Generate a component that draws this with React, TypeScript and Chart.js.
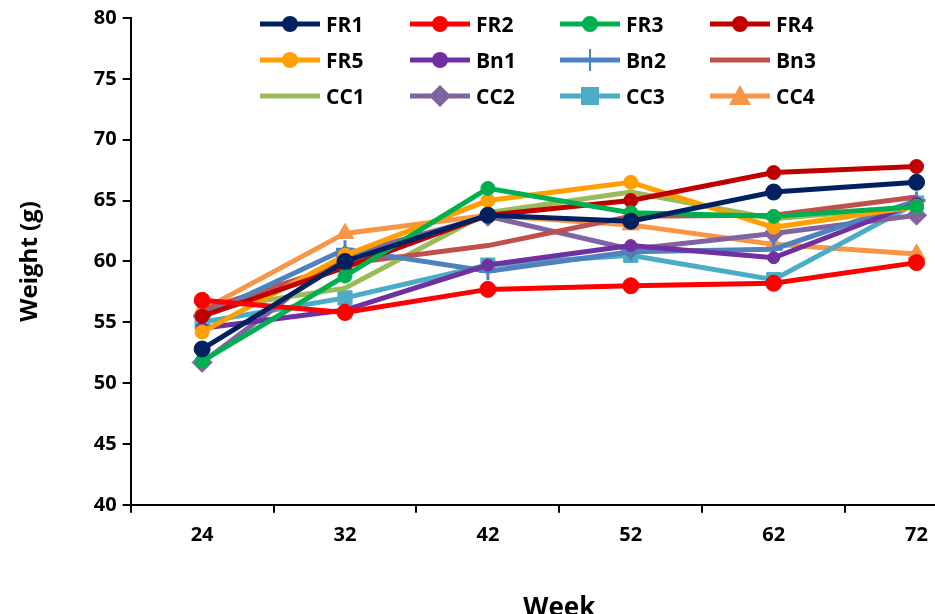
import React, { useEffect, useRef } from "react";
import { Chart, registerables } from "chart.js";
Chart.register(...registerables);

const weeks = ["24", "32", "42", "52", "62", "72"];
const names = ["FR1","FR2","FR3","FR4","FR5","Bn1","Bn2","Bn3","CC1","CC2","CC3","CC4"];
const FR1 = [52.8, 60.0, 63.8, 63.3, 65.7, 66.5];
const FR2 = [56.8, 55.8, 57.7, 58.0, 58.2, 59.9];
const FR3 = [51.8, 58.8, 66.0, 64.0, 63.7, 64.5];
const FR4 = [55.5, 59.5, 63.8, 65.0, 67.3, 67.8];
const FR5 = [54.2, 60.5, 65.0, 66.5, 62.8, 64.5];
const Bn1 = [54.5, 56.0, 59.7, 61.3, 60.3, 64.8];
const Bn2 = [55.5, 61.0, 59.2, 60.8, 61.0, 65.0];
const Bn3 = [56.0, 59.8, 61.3, 63.7, 63.8, 65.3];
const CC1 = [56.0, 57.8, 64.0, 65.7, 63.5, 64.5];
const CC2 = [51.7, 60.5, 63.7, 61.0, 62.3, 63.8];
const CC3 = [55.0, 57.0, 59.7, 60.5, 58.5, 64.8];
const CC4 = [56.0, 62.3, 63.8, 63.0, 61.4, 60.6];
const values = [FR1, FR2, FR3, FR4, FR5, Bn1, Bn2, Bn3, CC1, CC2, CC3, CC4];
const colors = ["#002060","#FF0000","#00B050","#C00000","#FFA000","#7030A0","#4F81BD","#C0504D","#9BBB59","#8064A2","#4BACC6","#F79646"];
const shapes = ["circle","circle","circle","circle","circle","circle","cross","line","line","rectRot","rect","triangle"];
const radii = [8,8,7,7,7,6,9,0,0,10,10,10];

export default function App() {
  const ref = useRef<HTMLCanvasElement>(null);
  useEffect(() => {
    document.body.style.overflow = "hidden";
    const font = { family: "'Open Sans', sans-serif", weight: "bold" as const };
    const chart = new Chart(ref.current!, {
      type: "line",
      data: {
        labels: weeks,
        datasets: names.map((n, i) => ({
          label: n,
          data: values[i],
          borderColor: colors[i],
          backgroundColor: colors[i],
          borderWidth: 5,
          pointStyle: shapes[i] as any,
          pointRadius: radii[i],
          pointBorderWidth: shapes[i] === "cross" ? 3 : 1,
        })),
      },
      options: {
        animation: false,
        responsive: false,
        layout: { padding: { top: 12, right: 10, left: 12, bottom: 0 } },
        plugins: { legend: { display: false }, tooltip: { enabled: false } },
        scales: {
          x: {
            offset: true,
            grid: { offset: true, drawOnChartArea: false, drawTicks: true, tickLength: 8, color: "#000", lineWidth: 2 },
            border: { color: "#000", width: 2 },
            ticks: { color: "#000", font: { ...font, size: 20 }, padding: 10 },
            title: { display: true, text: "Week", color: "#000", font: { ...font, size: 26 }, padding: { top: 36 } },
          },
          y: {
            min: 40, max: 80,
            grid: { drawOnChartArea: false, drawTicks: true, tickLength: 8, color: "#000", lineWidth: 2 },
            border: { color: "#000", width: 2 },
            ticks: { stepSize: 5, color: "#000", font: { ...font, size: 20 }, padding: 6 },
            title: { display: true, text: "Weight (g)", color: "#000", font: { ...font, size: 24 }, padding: { bottom: 43 } },
          },
        },
      },
    });
    return () => chart.destroy();
  }, []);
  const legendItem = (i: number) => (
    <div key={i} style={{ display: "flex", alignItems: "center", height: 36 }}>
      <svg width={60} height={24} style={{ marginRight: 6 }}>
        <line x1={0} y1={12} x2={60} y2={12} stroke={colors[i]} strokeWidth={5} />
        {shapes[i] === "circle" && <circle cx={30} cy={12} r={8} fill={colors[i]} />}
        {shapes[i] === "cross" && <line x1={30} y1={1} x2={30} y2={23} stroke={colors[i]} strokeWidth={2} />}
        {shapes[i] === "rectRot" && <polygon points="30,1 41,12 30,23 19,12" fill={colors[i]} />}
        {shapes[i] === "rect" && <rect x={21} y={3} width={18} height={18} fill={colors[i]} />}
        {shapes[i] === "triangle" && <polygon points="30,1 41,21 19,21" fill={colors[i]} />}
      </svg>
      <span style={{ fontFamily: "'Open Sans', sans-serif", fontWeight: "bold", fontSize: 21 }}>{names[i]}</span>
    </div>
  );
  return (
    <div style={{ position: "fixed", left: 0, top: 0, width: 935, height: 614, overflow: "hidden", background: "#fff" }}>
      <canvas ref={ref} width={1000} height={628} style={{ position: "absolute", left: 0, top: 0 }} />
      <div style={{ position: "absolute", left: 260, top: 6, display: "grid", gridTemplateColumns: "150px 150px 150px 150px" }}>
        {names.map((_, i) => legendItem(i))}
      </div>
    </div>
  );
}
